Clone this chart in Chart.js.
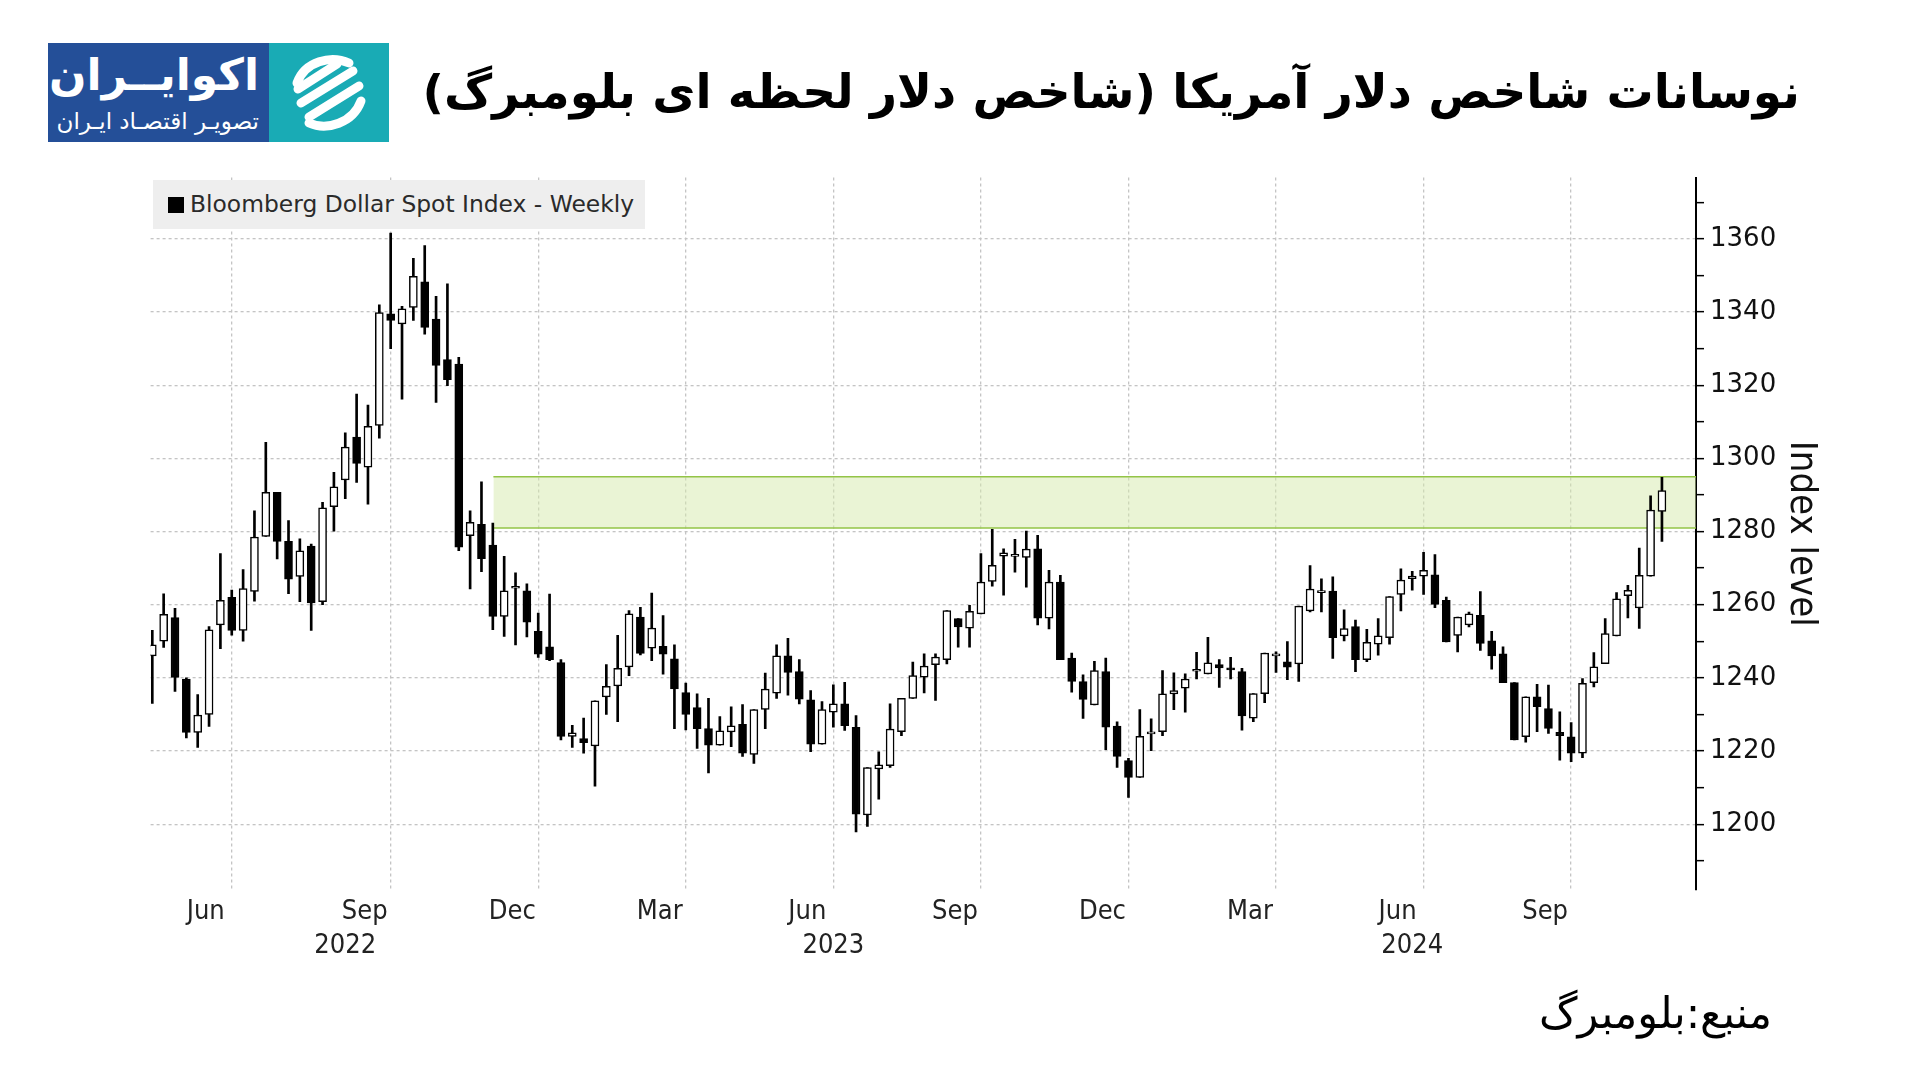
<!DOCTYPE html>
<html lang="fa">
<head>
<meta charset="utf-8">
<title>Bloomberg Dollar Spot Index - Weekly</title>
<script src="https://cdn.jsdelivr.net/npm/chart.js@4.4.1/dist/chart.umd.min.js"></script>
<style>
  html, body { margin: 0; padding: 0; background: #fff; }
  #page { position: relative; width: 1920px; height: 1080px; overflow: hidden; background: #fff; }
  #chartBox { position: absolute; left: 0; top: 0; width: 1920px; height: 1080px; }
  .logo { position: absolute; left: 48px; top: 43px; height: 99px; display: flex; }
  .logo .blue { width: 221px; height: 99px; background: #244f98; color: #fff; direction: rtl; font-family: "DejaVu Sans", sans-serif; position: relative; }
  .logo .blue .name { position: absolute; right: 10px; top: 4px; font-size: 44px; font-weight: bold; line-height: 56px; }
  .logo .blue .sub { position: absolute; right: 10px; top: 64px; font-size: 23px; line-height: 28px; }
  .logo .teal { width: 120px; height: 99px; background: #19abb5; }
  .title { position: absolute; right: 120px; top: 60px; direction: rtl; font-family: "DejaVu Sans", sans-serif; font-weight: bold; font-size: 47px; line-height: 64px; color: #000; white-space: nowrap; }
  .source { position: absolute; right: 148px; top: 988px; direction: rtl; font-family: "DejaVu Sans", sans-serif; font-size: 43px; line-height: 50px; color: #000; white-space: nowrap; }
  .legend { position: absolute; left: 153px; top: 180px; width: 492px; height: 49px; background: #eeeeee; font-family: "DejaVu Sans", sans-serif; font-size: 23.4px; color: #2a2a2a; }
  .legend .mark { position: absolute; left: 15px; top: 17px; width: 16px; height: 16px; background: #000; }
  .legend .txt { position: absolute; left: 37px; top: 0; line-height: 49px; white-space: nowrap; }
</style>
</head>
<body>
<div id="page">
  <div id="chartBox"><canvas id="dollarChart" width="1920" height="1080"></canvas></div>

  <div class="logo">
    <div class="blue">
      <div class="name">اکوایــران</div>
      <div class="sub">تصویـر اقتصـاد ایـران</div>
    </div>
    <div class="teal">
      <svg width="120" height="99" viewBox="0 0 120 99">
        <g fill="none" stroke="#fff" stroke-width="9" stroke-linecap="round">
          <path d="M80 20 C62 12 36 18 28 40" />
          <path d="M40 80 C58 88 84 80 92 58" />
          <line x1="32" y1="60" x2="84" y2="28" />
          <line x1="40" y1="74" x2="90" y2="43" />
          <line x1="29" y1="46" x2="68" y2="21" />
        </g>
      </svg>
    </div>
  </div>

  <div class="title">نوسانات شاخص دلار آمریکا (شاخص دلار لحظه ای بلومبرگ)</div>

  <div class="legend"><div class="mark"></div><div class="txt">Bloomberg Dollar Spot Index - Weekly</div></div>

  <div class="source">منبع:بلومبرگ</div>
</div>

<script>
// weekly OHLC of the Bloomberg Dollar Spot Index
var opens = [1246, 1250, 1256.5, 1239.7, 1225.1, 1230, 1254.5, 1262, 1253, 1263.6,
  1278.7, 1290.7, 1277.3, 1267.7, 1276, 1260.8, 1286.8, 1294.1, 1305.8, 1297.6,
  1309, 1339.5, 1336.8, 1341.3, 1348.3, 1338.1, 1327, 1325.8, 1278.9, 1282,
  1276.3, 1256.8, 1264.5, 1263.8, 1252.7, 1248.5, 1244.2, 1224, 1223.4, 1221.4,
  1234.8, 1237.8, 1243, 1256.6, 1248.1, 1248.6, 1245.2, 1236, 1231.9, 1226.1,
  1221.6, 1225.2, 1227.3, 1219.1, 1231.4, 1235.8, 1246, 1241.7, 1234, 1221.9,
  1230.6, 1232.9, 1226.5, 1202.5, 1215.1, 1216, 1225.3, 1234.4, 1240.2, 1243.6,
  1245, 1256.2, 1253.6, 1257.5, 1266.4, 1273.3, 1273.2, 1272.9, 1275.3, 1256.3,
  1266.2, 1245.4, 1239, 1232.6, 1241.7, 1226.8, 1217.4, 1212.8, 1224.7, 1225.3,
  1235.6, 1237.2, 1241.8, 1241.1, 1243.6, 1242.5, 1241.7, 1229, 1235.7, 1246,
  1244.4, 1243.8, 1258.3, 1263.3, 1263.7, 1251.5, 1254, 1245, 1249.2, 1251,
  1262.8, 1267.1, 1267.8, 1268.2, 1261.2, 1251.6, 1254.5, 1257.1, 1250.1, 1246.6,
  1238.7, 1223.9, 1234.8, 1231.6, 1225.1, 1223.9, 1219.4, 1238.7, 1243.9, 1251.5,
  1262.5, 1259.1, 1267.8, 1285.5];
var highs = [1253, 1263, 1259, 1240, 1235.4, 1254, 1274, 1264, 1269.6, 1285.7,
  1304.4, 1290.7, 1283, 1278, 1276.6, 1288, 1296.2, 1307, 1317.6, 1314.6,
  1342, 1361.6, 1341.6, 1354.7, 1358.2, 1344.3, 1347.7, 1327.6, 1285.7, 1293.6,
  1282.3, 1273.2, 1268.7, 1265.7, 1257.7, 1262.9, 1245, 1227, 1229, 1233.7,
  1243.6, 1251.6, 1258.4, 1259.3, 1263.2, 1257, 1249, 1238.6, 1235.6, 1234.4,
  1229.4, 1232.1, 1232.7, 1231.3, 1241.3, 1249, 1250.8, 1245, 1236.5, 1233.5,
  1238.1, 1238.8, 1229.7, 1215.5, 1219.8, 1232.9, 1234.4, 1244.3, 1246.6, 1246.6,
  1258.4, 1256.2, 1259.8, 1274, 1280.6, 1275.3, 1277.9, 1280.1, 1279, 1269.4,
  1268, 1246.8, 1240.8, 1244.5, 1245.4, 1228, 1218, 1231.3, 1228.8, 1242,
  1241.4, 1241.1, 1247, 1251.1, 1245, 1245.6, 1242.6, 1235.7, 1246.8, 1247.1,
  1249.9, 1259.6, 1270.7, 1267.1, 1267.6, 1258.6, 1255.8, 1253.3, 1256.2, 1262.2,
  1269.8, 1269.1, 1274.3, 1273.7, 1262.1, 1256.6, 1258, 1263.6, 1252.7, 1248.5,
  1238.7, 1234.8, 1238.2, 1238, 1230.7, 1227.8, 1239.8, 1246.9, 1256.2, 1263.3,
  1265.3, 1275.5, 1289.8, 1294.8];
var lows = [1233, 1248.3, 1236.3, 1223.6, 1221, 1226.7, 1248, 1251.7, 1250, 1261,
  1278.7, 1272.5, 1263, 1260.8, 1253, 1260, 1280.1, 1289, 1293.4, 1287.5,
  1305.5, 1330, 1316.2, 1337.7, 1334, 1315.3, 1319.9, 1274.8, 1264.3, 1269,
  1253.2, 1251.3, 1249, 1251.2, 1245.6, 1244.7, 1223, 1221, 1219.4, 1210.4,
  1230, 1228, 1240.6, 1246.3, 1244.7, 1241, 1226.1, 1225.8, 1220.7, 1214,
  1221.6, 1221.2, 1218.5, 1216.6, 1226.1, 1234.4, 1235.3, 1232.9, 1219.8, 1221.9,
  1226.5, 1225.6, 1197.9, 1199.4, 1206.8, 1215.5, 1224.2, 1234.4, 1235.9, 1233.8,
  1243.8, 1248.4, 1248.4, 1257.5, 1265.1, 1262.6, 1268.9, 1264.8, 1254.5, 1253.4,
  1245, 1236.1, 1228.9, 1232.6, 1220.4, 1215.5, 1207.3, 1212.8, 1220.1, 1224.2,
  1231.3, 1230.6, 1239.7, 1241.1, 1237.4, 1239.7, 1225.7, 1228, 1233.2, 1241.5,
  1239.5, 1239, 1258, 1258, 1245.3, 1250.1, 1241.7, 1244.4, 1246.2, 1249.2,
  1258.3, 1264, 1262.8, 1259.2, 1249.8, 1247.1, 1253.9, 1247.5, 1242.4, 1238.7,
  1223, 1222.4, 1225.3, 1224.8, 1217.5, 1217.1, 1218.2, 1237.5, 1243.9, 1251.5,
  1256.4, 1253.5, 1267.8, 1277.3];
var closes = [1249, 1257.4, 1240.1, 1225.1, 1229.8, 1253.1, 1261.2, 1253, 1264.4, 1278.5,
  1290.7, 1277.3, 1267, 1274.7, 1260.5, 1286.5, 1292.2, 1303.1, 1298.6, 1308.8,
  1339.9, 1337.7, 1340.9, 1349.8, 1335.8, 1325.4, 1321.5, 1275.7, 1282.5, 1272.6,
  1256.8, 1263.8, 1264.7, 1255.2, 1246.5, 1245, 1224, 1225, 1222.3, 1233.7,
  1237.7, 1242.6, 1257.5, 1246.7, 1253.6, 1246.5, 1237, 1230, 1226.1, 1221.6,
  1225.5, 1226.9, 1219.4, 1231.3, 1236.9, 1246, 1241.5, 1234.2, 1221.9, 1231.3,
  1232.9, 1226.9, 1202.7, 1215.5, 1216.2, 1226, 1234.4, 1240.6, 1243.2, 1245.7,
  1258.4, 1253.9, 1258.2, 1266.2, 1270.8, 1274.2, 1273.4, 1275.2, 1256.3, 1266.2,
  1245, 1239, 1234.1, 1242, 1226.5, 1218.5, 1212.8, 1224, 1225.1, 1235.6,
  1236.5, 1239.7, 1242.2, 1244.1, 1242.7, 1242.2, 1229.6, 1235.7, 1246.8, 1246.3,
  1242.9, 1259.6, 1264.3, 1263.5, 1251, 1253.5, 1245, 1249.7, 1251.5, 1262.2,
  1266.7, 1267.8, 1269.4, 1260.1, 1249.8, 1256.6, 1257.5, 1249.4, 1246, 1238.7,
  1223, 1234.8, 1232.1, 1226.2, 1224.2, 1219.4, 1238.5, 1243, 1252.1, 1261.6,
  1263.9, 1268, 1285.9, 1291.2];

// week numbers (1 = first visible week, mid-May 2022)
var weeks = opens.map(function (o, i) { return i + 1; });

// x axis: quarter gridlines and labels (in week numbers)
var monthTicks = [8, 22, 35, 48, 61, 74, 87, 100, 113, 126];
var monthLabels = ["Jun", "Sep", "Dec", "Mar", "Jun", "Sep", "Dec", "Mar", "Jun", "Sep"];
var yearTicks = [18, 61, 112];
var yearLabels = ["2022", "2023", "2024"];

// y axis ticks (labels on every 20)
var yTicks = [1190, 1200, 1210, 1220, 1230, 1240, 1250, 1260, 1270, 1280,
  1290, 1300, 1310, 1320, 1330, 1340, 1350, 1360, 1370];

// highlighted resistance zone
var bandLow = 1281;
var bandHigh = 1295;
var bandStart = 31.05;

var xMin = 0.85;
var xMax = 137;

var bodyColors = opens.map(function (o, i) { return closes[i] >= o ? "#ffffff" : "#000000"; });

var condensed = '"DejaVu Sans Condensed", "DejaVu Sans", sans-serif';
Chart.defaults.font.family = '"DejaVu Sans", sans-serif';

var ctx = document.getElementById("dollarChart").getContext("2d");
var myChart = new Chart(ctx, {
  type: "bar",
  data: {
    datasets: [
      {
        label: "body",
        data: weeks.map(function (w, i) { return { x: w, y: [opens[i], closes[i]] }; }),
        backgroundColor: bodyColors,
        borderColor: "#000",
        borderWidth: 1.5,
        borderSkipped: false,
        barThickness: 8,
        minBarLength: 2,
        grouped: false,
        order: 1,
      },
      {
        label: "wick",
        data: weeks.map(function (w, i) { return { x: w, y: [lows[i], highs[i]] }; }),
        backgroundColor: "#000",
        borderWidth: 0,
        barThickness: 2,
        grouped: false,
        order: 2,
      },
      {
        type: "line",
        label: "bandTop",
        data: [{ x: bandStart, y: bandHigh }, { x: xMax, y: bandHigh }],
        borderColor: "#93c447",
        borderWidth: 1.5,
        pointRadius: 0,
        fill: false,
        order: 3,
      },
      {
        type: "line",
        label: "bandBottom",
        data: [{ x: bandStart, y: bandLow }, { x: xMax, y: bandLow }],
        borderColor: "#93c447",
        borderWidth: 1.5,
        pointRadius: 0,
        fill: "-1",
        backgroundColor: "rgba(214, 234, 172, 0.5)",
        order: 4,
      },
    ],
  },
  options: {
    responsive: false,
    animation: false,
    events: [],
    layout: {
      padding: { left: 150.6, top: 177.5, right: 96, bottom: 110 },
    },
    plugins: {
      legend: { display: false },
      tooltip: { enabled: false },
    },
    scales: {
      x: {
        type: "linear",
        position: "bottom",
        min: xMin,
        max: xMax,
        offset: false,
        weight: 0,
        afterBuildTicks: function (scale) {
          scale.ticks = monthTicks.map(function (v) { return { value: v }; });
        },
        afterFit: function (scale) { scale.height = 40; },
        grid: { offset: false, color: "#c4c4c4", lineWidth: 1.3, drawTicks: false },
        border: { display: false, dash: [3, 3] },
        ticks: {
          callback: function (v, i) { return monthLabels[i]; },
          labelOffset: -26,
          padding: 6,
          autoSkip: false,
          maxRotation: 0,
          color: "#222",
          font: { family: condensed, size: 27 },
        },
      },
      xYear: {
        type: "linear",
        position: "bottom",
        min: xMin,
        max: xMax,
        offset: false,
        weight: 1,
        afterBuildTicks: function (scale) {
          scale.ticks = yearTicks.map(function (v) { return { value: v }; });
        },
        afterFit: function (scale) { scale.height = 40; },
        grid: { display: false, drawTicks: false },
        border: { display: false },
        ticks: {
          callback: function (v, i) { return yearLabels[i]; },
          padding: 0,
          autoSkip: false,
          maxRotation: 0,
          color: "#222",
          font: { family: condensed, size: 27 },
        },
      },
      y: {
        position: "right",
        min: 1182,
        max: 1376.8,
        afterBuildTicks: function (scale) {
          scale.ticks = yTicks.map(function (v) { return { value: v }; });
        },
        afterFit: function (scale) { scale.width = 128; },
        grid: {
          color: function (c) { return c.tick && c.tick.value % 20 === 0 ? "#c4c4c4" : "rgba(0,0,0,0)"; },
          tickColor: "#000",
          tickLength: 8,
          tickWidth: 1.5,
          lineWidth: 1.3,
        },
        border: { display: true, color: "#000", width: 2, dash: [3, 3] },
        ticks: {
          callback: function (v) { return v % 20 === 0 ? String(v) : ""; },
          padding: 6,
          color: "#111",
          font: { size: 26 },
        },
        title: {
          display: true,
          text: "Index level",
          color: "#111",
          padding: 0,
          font: { family: condensed, size: 38 },
        },
      },
    },
  },
});
</script>
</body>
</html>
